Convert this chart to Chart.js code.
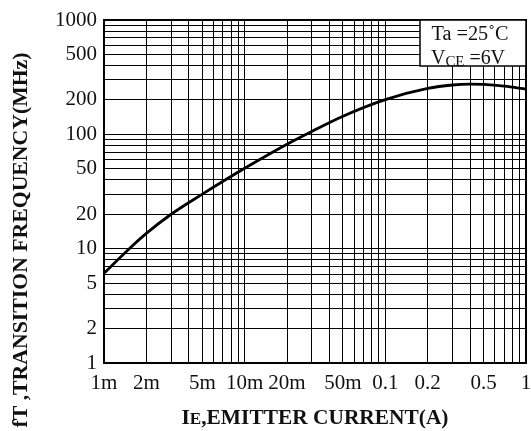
<!DOCTYPE html>
<html>
<head>
<meta charset="utf-8">
<script src="https://cdn.jsdelivr.net/npm/chart.js@4"></script>
<style>
  body { margin: 0; background: #fff; }
  #wrap { width: 531px; height: 431px; }
</style>
</head>
<body>
<div id="wrap"><canvas id="chart-canvas" width="531" height="431"></canvas></div>
<script>
const ctx = document.getElementById('chart-canvas');

// Emitter current (A) and transition frequency (MHz)
const currents = [0.001, 0.0015, 0.002, 0.003, 0.005, 0.01, 0.02, 0.03, 0.05, 0.1, 0.2, 0.3, 0.4, 0.5, 0.7, 1];
const ftValues = [6.1, 9.9, 13.6, 20, 30, 50.5, 82, 106, 144, 201, 252, 270, 275, 273, 264, 249];

// Tick labels that get printed, everything else is just a grid line
const xTickLabels = { 0.001: '1m', 0.002: '2m', 0.005: '5m', 0.01: '10m', 0.02: '20m', 0.05: '50m', 0.1: '0.1', 0.2: '0.2', 0.5: '0.5', 1: '1' };
const yTickLabels = { 1: '1', 2: '2', 5: '5', 10: '10', 20: '20', 50: '50', 100: '100', 200: '200', 500: '500', 1000: '1000' };

const serif = '"Liberation Serif", "DejaVu Serif", serif';

// 1..9 per decade
function decadeTicks(min, max) {
  const ticks = [];
  for (let d = min; d < max; d *= 10) {
    for (let k = 1; k < 10; k++) ticks.push({ value: +(k * d).toPrecision(3) });
  }
  ticks.push({ value: max });
  return ticks;
}

// draw pieces [text, size] on one baseline, stretched to a given total width
function drawParts(c, parts, cx, y, targetWidth, bold) {
  const pre = bold ? 'bold ' : '';
  let total = 0;
  parts.forEach(p => { c.font = pre + p[1] + 'px ' + serif; total += c.measureText(p[0]).width; });
  const k = targetWidth ? targetWidth / total : 1;
  c.save();
  c.translate(cx - total * k / 2, y);
  c.scale(k, 1);
  let x = 0;
  parts.forEach(p => {
    c.font = pre + p[1] + 'px ' + serif;
    c.fillText(p[0], x, p[2] || 0);
    x += c.measureText(p[0]).width;
  });
  c.restore();
}

const extras = {
  id: 'extras',
  afterDraw(chart) {
    const c = chart.ctx;
    const a = chart.chartArea;
    c.save();

    // frame
    c.strokeStyle = '#000';
    c.lineWidth = 2;
    c.strokeRect(a.left, a.top, a.right - a.left, a.bottom - a.top);

    // condition box
    const bx = 420, by = a.top, bw = a.right - bx, bh = 46;
    c.fillStyle = '#fff';
    c.fillRect(bx, by, bw, bh);
    c.lineWidth = 1.5;
    c.strokeRect(bx, by, bw, bh);
    c.fillStyle = '#111';
    c.textBaseline = 'alphabetic';
    c.textAlign = 'left';
    drawParts(c, [['Ta =25˚C', 20]], 470, by + 20, 77, false);
    drawParts(c, [['V', 20], ['CE', 15, 2], [' =6V', 20]], 468, by + 44, 74, false);

    // axis titles
    drawParts(c, [['I', 20], ['E', 16], [',EMITTER CURRENT(A)', 20]], (a.left + a.right) / 2, 424, 267, true);

    c.translate(27, 240);
    c.rotate(-Math.PI / 2);
    drawParts(c, [['fT ,TRANSITION FREQUENCY(MHz)', 20]], 0, 0, 375, true);

    c.restore();
  }
};

new Chart(ctx, {
  type: 'line',
  data: {
    datasets: [{
      data: currents.map((v, i) => ({ x: v, y: ftValues[i] })),
      borderColor: '#000',
      borderWidth: 2.8,
      pointRadius: 0,
      cubicInterpolationMode: 'monotone',
      fill: false
    }]
  },
  options: {
    responsive: false,
    animation: false,
    events: [],
    layout: { padding: { left: 0, right: 5, top: 20, bottom: 0 } },
    plugins: { legend: { display: false }, tooltip: { enabled: false } },
    scales: {
      x: {
        type: 'logarithmic',
        min: 0.001,
        max: 1,
        afterBuildTicks: s => { s.ticks = decadeTicks(0.001, 1); },
        afterFit: s => { s.height = 68; s.paddingLeft = 0; s.paddingRight = 0; },
        grid: { color: '#000', lineWidth: 1, drawTicks: false },
        border: { display: false },
        ticks: {
          autoSkip: false,
          maxRotation: 0,
          padding: 8,
          color: '#111',
          font: { family: serif, size: 21 },
          callback: v => xTickLabels[v] || ''
        }
      },
      y: {
        type: 'logarithmic',
        min: 1,
        max: 1000,
        afterBuildTicks: s => { s.ticks = decadeTicks(1, 1000); },
        afterFit: s => { s.width = 104; },
        grid: { color: '#000', lineWidth: 1, drawTicks: false },
        border: { display: false },
        ticks: {
          autoSkip: false,
          padding: 7,
          color: '#111',
          font: { family: serif, size: 21 },
          callback: v => yTickLabels[v] || ''
        }
      }
    }
  },
  plugins: [extras]
});
</script>
</body>
</html>
